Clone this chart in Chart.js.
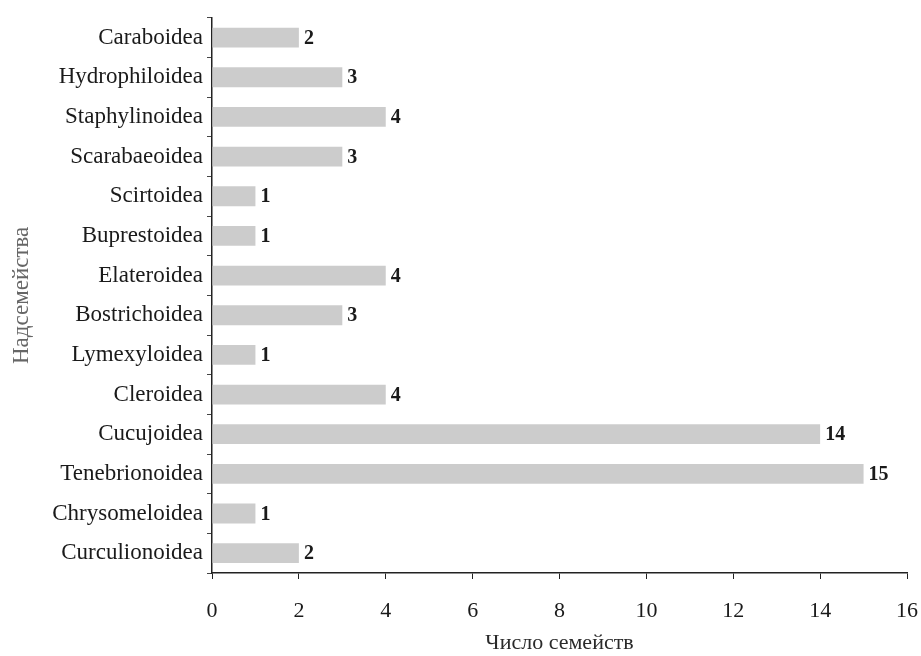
<!DOCTYPE html>
<html>
<head>
<meta charset="utf-8">
<script src="https://cdn.jsdelivr.net/npm/chart.js@4.4.1/dist/chart.umd.min.js"></script>
<style>
  html, body { margin: 0; padding: 0; background: #fff; }
  #wrap { width: 921px; height: 656px; position: relative; }
</style>
</head>
<body>
<div id="wrap"><canvas id="chart"></canvas></div>
<script>
const superfamilies = [
  "Caraboidea", "Hydrophiloidea", "Staphylinoidea", "Scarabaeoidea",
  "Scirtoidea", "Buprestoidea", "Elateroidea", "Bostrichoidea",
  "Lymexyloidea", "Cleroidea", "Cucujoidea", "Tenebrionoidea",
  "Chrysomeloidea", "Curculionoidea"
];
const familyCounts = [2, 3, 4, 3, 1, 1, 4, 3, 1, 4, 14, 15, 1, 2];
const xTicks = [0, 2, 4, 6, 8, 10, 12, 14, 16];

const serif = "'Liberation Serif', 'DejaVu Serif', serif";

// numbers at the end of each bar
const valueLabels = {
  id: 'valueLabels',
  afterDatasetsDraw(chart) {
    const ctx = chart.ctx;
    const meta = chart.getDatasetMeta(0);
    ctx.save();
    ctx.font = "bold 20px " + serif;
    ctx.fillStyle = "#1a1a1a";
    ctx.textAlign = "left";
    ctx.textBaseline = "middle";
    meta.data.forEach((bar, i) => {
      ctx.fillText(String(familyCounts[i]), bar.x + 5, bar.y + 1);
    });
    ctx.restore();
  }
};

new Chart(document.getElementById("chart"), {
  type: "bar",
  data: {
    labels: superfamilies,
    datasets: [{
      data: familyCounts,
      backgroundColor: "#cccccc",
      borderWidth: 0,
      categoryPercentage: 1.0,
      barPercentage: 0.5
    }]
  },
  plugins: [valueLabels],
  options: {
    indexAxis: "y",
    responsive: true,
    maintainAspectRatio: false,
    animation: false,
    events: [],
    layout: { padding: { top: 13, right: 0, bottom: 0, left: 8 } },
    plugins: {
      legend: { display: false },
      tooltip: { enabled: false }
    },
    scales: {
      x: {
        min: 0,
        max: 16,
        afterBuildTicks(scale) {
          scale.ticks = xTicks.map(v => ({ value: v }));
        },
        afterFit(scale) {
          scale.height = 83;
          scale.paddingLeft = 0;
          scale.paddingRight = 14;
        },
        grid: {
          drawOnChartArea: false,
          drawTicks: true,
          tickLength: 6,
          color: "#222"
        },
        border: { display: true, color: "#222", width: 1.5 },
        ticks: {
          padding: 19,
          color: "#1a1a1a",
          font: { family: serif, size: 22 }
        },
        title: {
          display: true,
          text: "Число семейств",
          color: "#2a2a2a",
          font: { family: serif, size: 22 },
          padding: { top: 0, bottom: 0 }
        }
      },
      y: {
        afterFit(scale) { scale.width = 204; },
        grid: {
          drawOnChartArea: false,
          drawTicks: true,
          tickLength: 5,
          offset: true,
          color: "#444"
        },
        border: { display: true, color: "#222", width: 1.5 },
        ticks: {
          padding: 4,
          color: "#1a1a1a",
          font: { family: serif, size: 23 }
        },
        title: {
          display: true,
          text: "Надсемейства",
          color: "#666",
          font: { family: serif, size: 23 },
          padding: { top: 0, bottom: 0 }
        }
      }
    }
  }
});
</script>
</body>
</html>
